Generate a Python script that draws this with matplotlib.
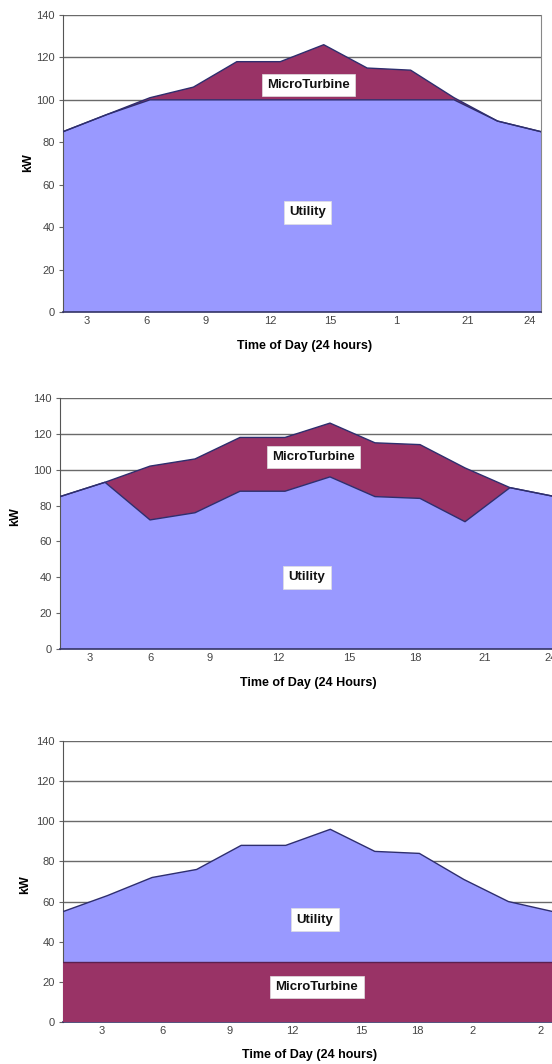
import numpy as np
import matplotlib
matplotlib.use("Agg")
import matplotlib.pyplot as plt

plt.rcParams['font.family'] = ['Liberation Sans', 'DejaVu Sans']

# two-hourly load points across the day
slots = np.arange(12)

# peak shaving: microturbine covers load above 100 kW
utility_peak = [85, 93, 100, 100, 100, 100, 100, 100, 100, 100, 90, 85]
turbine_peak = [0, 0, 1, 6, 18, 18, 26, 15, 14, 1, 0, 0]

# daytime support: 30 kW from the microturbine during the day
utility_day = [85, 93, 72, 76, 88, 88, 96, 85, 84, 71, 90, 85]
turbine_day = [0, 0, 30, 30, 30, 30, 30, 30, 30, 30, 0, 0]

# baseload: 30 kW all day
utility_base = [55, 63, 72, 76, 88, 88, 96, 85, 84, 71, 60, 55]
turbine_base = [30] * 12

labels_peak = ['3', '6', '9', '12', '15', '1', '21', '24']
labels_day = ['3', '6', '9', '12', '15', '18', '21', '24']
labels_base = ['3', '6', '9', '12', '15', '18', '2', '2']

UTIL = '#9999ff'
MT = '#993366'
EDGE = '#2e2e6e'
GRID = '#6a6a6a'

W, H = 552, 1064
fig = plt.figure(figsize=(W / 100, H / 100), dpi=100)


def make_axes(left, right, top, bottom):
    return fig.add_axes([left / W, 1 - bottom / H, (right - left) / W, (bottom - top) / H])


def px_ticks(left, step, pixels):
    # category label spots given in pixels along the axis
    return [(p - left) / step for p in pixels]


def style(ax, ticks, labels):
    ax.set_xlim(0, 11)
    ax.set_ylim(0, 140)
    ax.set_yticks(range(0, 141, 20))
    ax.yaxis.grid(True, color=GRID, lw=1.0)
    ax.set_axisbelow(True)
    ax.set_xticks(ticks)
    ax.set_xticklabels(labels)
    ax.tick_params(axis='x', length=0, pad=3, labelsize=8, labelcolor='#444444')
    ax.tick_params(axis='y', length=3, width=0.8, color='#666666', pad=3,
                   labelsize=8, labelcolor='#444444')
    for side in ['top', 'right']:
        ax.spines[side].set_visible(False)
    ax.spines['left'].set_color('#555555')
    ax.spines['bottom'].set_color('#333366')
    ax.spines['bottom'].set_linewidth(1.2)


def tag(ax, x, y, s):
    ax.text(x, y, s, ha='center', va='center', fontsize=9.5, fontweight='bold',
            color='#111111', zorder=5,
            bbox=dict(boxstyle='square,pad=0.4', fc='white', ec='#e0e0e0', lw=0.5))


def stacked(ax, util, mt):
    util = np.array(util)
    top = util + np.array(mt)
    ax.fill_between(slots, 0, util, facecolor=UTIL, edgecolor='none', zorder=2)
    ax.fill_between(slots, util, top, where=top > util, interpolate=True,
                    facecolor=MT, edgecolor='none', zorder=2)
    ax.plot(slots, util, color=EDGE, lw=1.0, zorder=3)
    ax.plot(slots, top, color=EDGE, lw=1.0, zorder=3)


def titles(ylab_x, ylab_y, x_title, tx, ty):
    fig.text(ylab_x / W, 1 - ylab_y / H, 'kW', rotation=90, ha='center', va='center',
             fontsize=9, fontweight='bold')
    fig.text(tx / W, 1 - ty / H, x_title, ha='center', va='center',
             fontsize=9, fontweight='bold')


# top chart
ax1 = make_axes(63, 541, 15, 312)
stacked(ax1, utility_peak, turbine_peak)
style(ax1, px_ticks(63, 43.45, [87, 146, 206, 270, 330, 396, 468, 530]), labels_peak)
ax1.spines['right'].set_visible(True)
ax1.spines['right'].set_color('#888888')
tag(ax1, 5.65, 107, 'MicroTurbine')
tag(ax1, 5.63, 47, 'Utility')
titles(28, 163, 'Time of Day (24 hours)', 305, 346)

# middle chart
ax2 = make_axes(60, 555, 398, 649)
stacked(ax2, utility_day, turbine_day)
style(ax2, px_ticks(60, 45, [90, 151, 210, 278, 349, 415, 485, 551]), labels_day)
tag(ax2, 5.64, 107, 'MicroTurbine')
tag(ax2, 5.49, 40, 'Utility')
titles(15, 517, 'Time of Day (24 Hours)', 308, 683)

# bottom chart: overlapping areas, turbine in front
ax3 = make_axes(63, 553, 741, 1022)
ax3.fill_between(slots, 0, utility_base, facecolor=UTIL, edgecolor='none', zorder=2)
ax3.plot(slots, utility_base, color=EDGE, lw=1.0, zorder=3)
ax3.fill_between(slots, 0, turbine_base, facecolor=MT, edgecolor='none', zorder=3)
ax3.plot(slots, turbine_base, color='#5a2050', lw=1.0, zorder=3)
style(ax3, px_ticks(63, 44.5, [102, 162, 229, 292, 361, 417, 472, 540]), labels_base)
tag(ax3, 5.66, 51, 'Utility')
tag(ax3, 5.7, 17.5, 'MicroTurbine')
titles(25, 885, 'Time of Day (24 hours)', 310, 1055)

fig.savefig('out.png', dpi=100, facecolor='white')
